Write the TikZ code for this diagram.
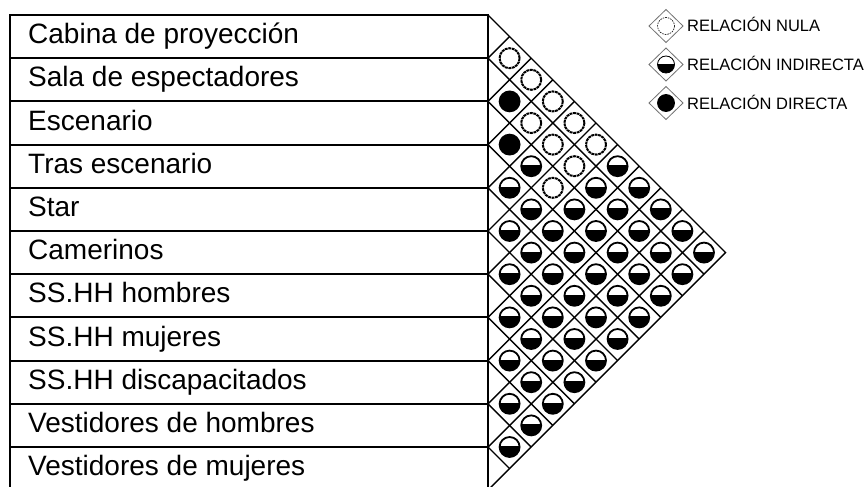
\documentclass[tikz,border=0pt]{standalone}
\usepackage{fontspec}
\setmainfont{Liberation Sans}
\usepackage{tikz}
\usetikzlibrary{calc}

% symbols of the relation matrix, drawn round (0,0)
\newcommand{\relsymn}[1]{\draw[nularing] (0,0) circle (#1);}
\newcommand{\relsymi}[1]{%
  \fill (0,0) circle (#1);
  \begin{scope}
    \clip ({-#1-2},{-#1-2}) rectangle ({#1+2},{-0.15*#1});
    \fill[white] (0,0) circle (#1);
  \end{scope}
  \draw[ring] (0,0) circle (#1);}
\newcommand{\relsymd}[1]{\fill (0,0) circle (#1); \draw[ring] (0,0) circle (#1);}

\begin{document}
\begin{tikzpicture}[
  x=1pt, y=-1pt,
  roomname/.style={anchor=base west, inner sep=0pt,
                   font=\fontsize{28}{30}\selectfont},
  legtext/.style={anchor=base west, inner sep=0pt,
                  font=\fontsize{16.5}{18}\selectfont},
  tabline/.style={line width=2pt},
  gridline/.style={line width=1.4pt},
  ring/.style={line width=1.8pt},
  nularing/.style={line width=2pt, dash pattern=on 2.8pt off 0.7pt},
  legdiamond/.style={draw=black!55, line width=0.8pt},
  pics/rel/.style args={#1/#2}{code={\csname relsym#1\endcsname{#2}}}]

\def\xo{488}  % right side of the table
\def\yo{15}   % top of the table
\def\rh{43.2} % row height

\useasboundingbox (0,0) rectangle (867,487);
\clip (0,0) rectangle (867,487);

%% Triangle grid
\draw[gridline] (\xo,\yo) -- ({\xo+5.5*\rh},{\yo+5.5*\rh}) -- (\xo,{\yo+11*\rh});
\foreach \k in {1,...,10}{
  \draw[gridline] (\xo,{\yo+\k*\rh}) -- ++({(11-\k)*\rh/2},{(11-\k)*\rh/2});
  \draw[gridline] (\xo,{\yo+\k*\rh}) -- ++({\k*\rh/2},{-\k*\rh/2});
}

%% Relations: n = nula, i = indirecta, d = directa
\foreach \i/\codes in {0/{n,n,n,n,n,i,i,i,i,i}, 1/{d,n,n,n,i,i,i,i,i},
    2/{d,i,n,i,i,i,i,i}, 3/{i,i,i,i,i,i,i}, 4/{i,i,i,i,i,i},
    5/{i,i,i,i,i}, 6/{i,i,i,i}, 7/{i,i,i}, 8/{i,i}, 9/{i}}{
  \foreach \c [count=\d] in \codes
    \pic at ({\xo+\d*\rh/2},{\yo+(2*\i+\d+1)*\rh/2}) {rel=\c/10};
}

%% Table of spaces
\draw[tabline] (10,\yo) rectangle (\xo,{\yo+11*\rh});
\foreach \k in {1,...,10}
  \draw[tabline] (10,{\yo+\k*\rh}) -- (\xo,{\yo+\k*\rh});
\foreach \room [count=\k from 0] in {Cabina de proyección, Sala de espectadores,
    Escenario, Tras escenario, Star, Camerinos, SS.HH hombres, SS.HH mujeres,
    SS.HH discapacitados, Vestidores de hombres, Vestidores de mujeres}
  \node[roomname] (room\k) at (28,{\yo+(\k+0.5)*\rh+7}) {\room};

%% Legend
\begin{scope}[ring/.style={line width=0.8pt},
              nularing/.style={line width=0.6pt, dash pattern=on 1.6pt off 1pt}]
\foreach \y/\c/\txt [count=\n] in {26/n/RELACIÓN NULA, 64.5/i/RELACIÓN INDIRECTA,
    103/d/RELACIÓN DIRECTA}{
  \coordinate (leg\n) at (666,\y);
  \draw[legdiamond] (leg\n) ++(-17,0) -- ++(17,-16.5) -- ++(17,16.5)
    -- ++(-17,16.5) -- cycle;
  \pic at (leg\n) {rel=\c/8.5};
  \node[legtext] (legtxt\n) at ($(leg\n)+(21,6)$) {\txt};
}
\end{scope}
\end{tikzpicture}
\end{document}
